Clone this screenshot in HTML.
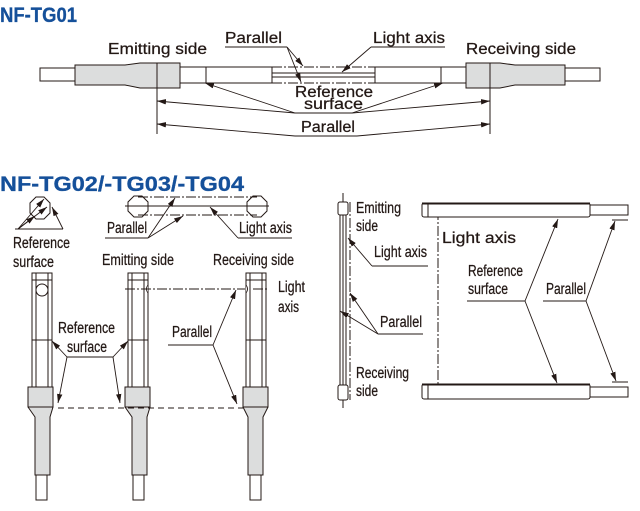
<!DOCTYPE html>
<html><head><meta charset="utf-8"><style>
html,body{margin:0;padding:0;background:#fff;}
svg{display:block;}
text{font-family:"Liberation Sans",Arial,sans-serif;fill:#231815;font-size:15.5px;stroke:#231815;stroke-width:0.25;}
.t{font-weight:bold;fill:#15509a;stroke:#15509a;stroke-width:0.3;font-size:21px;}
.l{stroke:#231815;stroke-width:1;fill:none;}
.a{stroke:#231815;stroke-width:0.9;fill:none;marker-end:url(#ar);}
.dd{stroke:#231815;stroke-width:1;fill:none;stroke-dasharray:10 2 2 2;}
.g{fill:#dcdddd;stroke:#231815;stroke-width:1;}
.w{fill:#fff;stroke:#231815;stroke-width:1;}
</style></head><body>
<svg width="640" height="511" viewBox="0 0 640 511" xmlns="http://www.w3.org/2000/svg">
<defs><marker id="ar" viewBox="0 0 10 6" refX="10" refY="3" markerWidth="9" markerHeight="5.5" orient="auto" markerUnits="userSpaceOnUse"><path d="M0,0 L10,3 L0,6 z" fill="#231815"/></marker></defs>

<text class="t" x="0" y="22" textLength="77" lengthAdjust="spacingAndGlyphs">NF-TG01</text>
<text class="t" x="0" y="191" textLength="244" lengthAdjust="spacingAndGlyphs">NF-TG02/-TG03/-TG04</text>

<!-- TOP DIAGRAM -->
<rect class="w" x="40" y="68" width="40" height="13"/>
<rect class="w" x="560" y="68" width="40" height="13"/>
<path class="g" d="M75,65 L125,65 L140,63 L157,63 L157,88 L140,88 L125,85 L75,85 Z"/>
<rect class="g" x="157" y="63" width="23" height="25"/>
<path class="g" d="M565,65 L515,65 L500,63 L490,63 L490,88 L500,88 L515,85 L565,85 Z"/>
<rect class="g" x="466" y="63" width="24" height="25"/>
<rect class="w" x="180" y="67" width="92" height="16"/><line class="l" x1="206" y1="67" x2="206" y2="83"/>
<rect class="w" x="375" y="67" width="91" height="16"/><line class="l" x1="441" y1="67" x2="441" y2="83"/>
<line class="dd" x1="272" y1="67" x2="375" y2="67"/><line class="dd" x1="272" y1="83" x2="375" y2="83"/>
<line class="l" x1="272" y1="73" x2="375" y2="73" stroke-width="0.7"/><line class="l" x1="272" y1="77" x2="375" y2="77" stroke-width="0.7"/>
<line class="l" x1="157" y1="88" x2="157" y2="134"/><line class="l" x1="490" y1="88" x2="490" y2="134"/>

<text x="108" y="54" font-size="17" textLength="99" lengthAdjust="spacingAndGlyphs">Emitting side</text>
<text x="225" y="43" font-size="17" textLength="57" lengthAdjust="spacingAndGlyphs">Parallel</text>
<line class="l" x1="225" y1="47" x2="287" y2="47"/>
<line class="a" x1="287" y1="47" x2="303" y2="66"/><line class="a" x1="287" y1="47" x2="301" y2="82"/>
<text x="373" y="43" font-size="17" textLength="72" lengthAdjust="spacingAndGlyphs">Light axis</text>
<line class="l" x1="371" y1="47" x2="445" y2="47"/>
<line class="a" x1="371" y1="47" x2="342" y2="72"/>
<text x="466" y="54" font-size="17" textLength="110" lengthAdjust="spacingAndGlyphs">Receiving side</text>
<text x="295" y="97" font-size="17" textLength="78" lengthAdjust="spacingAndGlyphs">Reference</text>
<text x="304" y="109" font-size="17" textLength="59" lengthAdjust="spacingAndGlyphs">surface</text>
<line class="l" x1="295" y1="113" x2="352" y2="113"/>
<line class="a" x1="295" y1="113" x2="205" y2="83"/><line class="a" x1="352" y1="113" x2="443" y2="83"/>
<line class="a" x1="295" y1="113" x2="157" y2="101"/><line class="a" x1="352" y1="113" x2="490" y2="101"/>
<text x="301" y="132" font-size="17" textLength="54" lengthAdjust="spacingAndGlyphs">Parallel</text>
<line class="l" x1="295" y1="136" x2="357" y2="136"/>
<line class="a" x1="295" y1="136" x2="157" y2="124"/><line class="a" x1="357" y1="136" x2="490" y2="124"/>

<!-- BOTTOM LEFT -->
<polygon class="w" points="36,197 44,197 50,203 50,213 44,219 36,219 30,213 30,203"/>
<line class="l" x1="15" y1="229" x2="63" y2="229"/>
<line class="a" x1="18" y1="229" x2="44" y2="199"/><line class="a" x1="18" y1="229" x2="47" y2="207"/><line class="a" x1="18" y1="229" x2="35" y2="216"/>
<line class="a" x1="63" y1="229" x2="52" y2="207"/>
<text x="13" y="248" textLength="57" lengthAdjust="spacingAndGlyphs">Reference</text>
<text x="13" y="267" textLength="41" lengthAdjust="spacingAndGlyphs">surface</text>

<polygon class="w" points="134,196 142,196 148,202 148,211 142,217 134,217 128,211 128,202"/>
<polygon class="w" points="253,196 261,196 267,202 267,211 261,217 253,217 247,211 247,202"/>
<line class="l" x1="125" y1="206" x2="269" y2="206"/>
<line class="dd" x1="138" y1="197" x2="257" y2="197"/><line class="dd" x1="138" y1="215" x2="257" y2="215"/>
<text x="107" y="233" textLength="40" lengthAdjust="spacingAndGlyphs">Parallel</text>
<line class="l" x1="105" y1="238" x2="148" y2="238"/>
<line class="a" x1="148" y1="238" x2="175" y2="198"/><line class="a" x1="148" y1="238" x2="183" y2="216"/>
<text x="239" y="233" textLength="53" lengthAdjust="spacingAndGlyphs">Light axis</text>
<line class="l" x1="238" y1="238" x2="292" y2="238"/>
<line class="a" x1="238" y1="238" x2="210" y2="207"/>
<text x="102" y="265" textLength="72" lengthAdjust="spacingAndGlyphs">Emitting side</text>
<text x="213" y="265" textLength="81" lengthAdjust="spacingAndGlyphs">Receiving side</text>

<!-- rods -->
<g>
<path class="g" d="M28,387 L53,387 L53,407 L50,417 L50,475 L35,475 L35,417 L28,407 Z"/>
<rect class="g" x="28" y="387" width="25" height="20"/>
<rect class="w" x="36" y="475" width="11" height="25"/>
<rect class="w" x="32" y="273" width="20" height="114"/>
<line class="l" x1="32" y1="280" x2="52" y2="280"/><line class="l" x1="32" y1="340" x2="52" y2="340"/>
<line class="l" x1="36" y1="273" x2="36" y2="387"/><line class="l" x1="48" y1="273" x2="48" y2="387"/>
<circle class="w" cx="42" cy="290" r="6"/>
</g>
<g>
<path class="g" d="M125,387 L150,387 L150,407 L147,417 L147,475 L132,475 L132,417 L125,407 Z"/>
<rect class="g" x="125" y="387" width="25" height="20"/>
<rect class="w" x="133" y="475" width="11" height="25"/>
<rect class="w" x="128" y="273" width="20" height="114"/>
<line class="l" x1="128" y1="280" x2="148" y2="280"/><line class="l" x1="128" y1="340" x2="148" y2="340"/>
<line class="l" x1="132" y1="273" x2="132" y2="387"/><line class="l" x1="144" y1="273" x2="144" y2="387"/>
<path d="M148,285 Q145,289 148,293" stroke="#231815" fill="#fff"/>
</g>
<g>
<path class="g" d="M243,387 L268,387 L268,407 L263,417 L263,475 L248,475 L248,417 L243,407 Z"/>
<rect class="g" x="243" y="387" width="25" height="20"/>
<rect class="w" x="250" y="475" width="11" height="25"/>
<rect class="w" x="246" y="273" width="20" height="114"/>
<line class="l" x1="246" y1="280" x2="266" y2="280"/><line class="l" x1="246" y1="340" x2="266" y2="340"/>
<line class="l" x1="250" y1="273" x2="250" y2="387"/><line class="l" x1="262" y1="273" x2="262" y2="387"/>
<path d="M246,285 Q249,289 246,293" stroke="#231815" fill="#fff"/>
</g>
<line class="dd" x1="125" y1="289" x2="245" y2="289"/><line class="dd" x1="253" y1="289" x2="269" y2="289"/>
<line class="l" x1="58" y1="408" x2="243" y2="408" stroke-dasharray="6 4"/>
<text x="278" y="292" textLength="27" lengthAdjust="spacingAndGlyphs">Light</text>
<text x="278" y="312" textLength="21" lengthAdjust="spacingAndGlyphs">axis</text>
<text x="58" y="333" textLength="57" lengthAdjust="spacingAndGlyphs">Reference</text>
<text x="67" y="352" textLength="40" lengthAdjust="spacingAndGlyphs">surface</text>
<line class="l" x1="67" y1="357" x2="113" y2="357"/>
<line class="a" x1="67" y1="357" x2="52" y2="341"/><line class="a" x1="67" y1="357" x2="58" y2="403"/>
<line class="a" x1="113" y1="357" x2="128" y2="341"/><line class="a" x1="113" y1="357" x2="120" y2="403"/>
<text x="172" y="337" textLength="40" lengthAdjust="spacingAndGlyphs">Parallel</text>
<line class="l" x1="168" y1="345" x2="213" y2="345"/>
<line class="a" x1="213" y1="345" x2="236" y2="290"/><line class="a" x1="213" y1="345" x2="237" y2="404"/>

<!-- BOTTOM RIGHT -->
<line class="l" x1="343" y1="193" x2="343" y2="408"/>
<line class="l" x1="340" y1="215" x2="340" y2="385" stroke-width="0.7"/><line class="l" x1="346" y1="215" x2="346" y2="385" stroke-width="0.7"/>
<rect class="w" x="338" y="202" width="10" height="13" rx="2"/>
<rect class="w" x="338" y="385" width="10" height="15" rx="2"/>
<line class="dd" x1="350" y1="202" x2="350" y2="400"/>
<text x="356" y="213" textLength="45" lengthAdjust="spacingAndGlyphs">Emitting</text>
<text x="356" y="231" textLength="22" lengthAdjust="spacingAndGlyphs">side</text>
<text x="374" y="257" textLength="53" lengthAdjust="spacingAndGlyphs">Light axis</text>
<line class="l" x1="372" y1="266" x2="428" y2="266"/>
<line class="a" x1="372" y1="266" x2="348" y2="238"/>
<text x="380" y="327" textLength="42" lengthAdjust="spacingAndGlyphs">Parallel</text>
<line class="l" x1="378" y1="334" x2="423" y2="334"/>
<line class="a" x1="378" y1="334" x2="350" y2="293"/><line class="a" x1="378" y1="334" x2="340" y2="311"/>
<text x="356" y="378" textLength="53" lengthAdjust="spacingAndGlyphs">Receiving</text>
<text x="356" y="396" textLength="22" lengthAdjust="spacingAndGlyphs">side</text>

<line class="dd" x1="438" y1="210" x2="438" y2="390"/>
<text x="442" y="243" font-size="19" textLength="74" lengthAdjust="spacingAndGlyphs">Light axis</text>
<rect class="w" x="590" y="205" width="38" height="10"/>
<rect class="w" x="590" y="387" width="38" height="10"/>
<rect class="w" x="422" y="203" width="168" height="14" rx="2"/>
<line x1="422" y1="203.5" x2="590" y2="203.5" stroke="#231815" stroke-width="2"/>
<line class="l" x1="428" y1="203" x2="428" y2="217"/>
<rect class="w" x="422" y="384" width="168" height="15" rx="2"/>
<line x1="422" y1="384.5" x2="590" y2="384.5" stroke="#231815" stroke-width="2"/>
<line class="l" x1="428" y1="384" x2="428" y2="399"/>
<line class="l" x1="612" y1="220" x2="628" y2="220"/><line class="l" x1="612" y1="382" x2="628" y2="382"/>
<text x="468" y="276" textLength="55" lengthAdjust="spacingAndGlyphs">Reference</text>
<text x="468" y="294" textLength="40" lengthAdjust="spacingAndGlyphs">surface</text>
<line class="l" x1="467" y1="301" x2="525" y2="301"/>
<line class="a" x1="525" y1="301" x2="558" y2="219"/><line class="a" x1="525" y1="301" x2="557" y2="383"/>
<text x="546" y="294" textLength="40" lengthAdjust="spacingAndGlyphs">Parallel</text>
<line class="l" x1="543" y1="301" x2="586" y2="301"/>
<line class="a" x1="586" y1="301" x2="615" y2="221"/><line class="a" x1="586" y1="301" x2="616" y2="381"/>
</svg>
</body></html>
